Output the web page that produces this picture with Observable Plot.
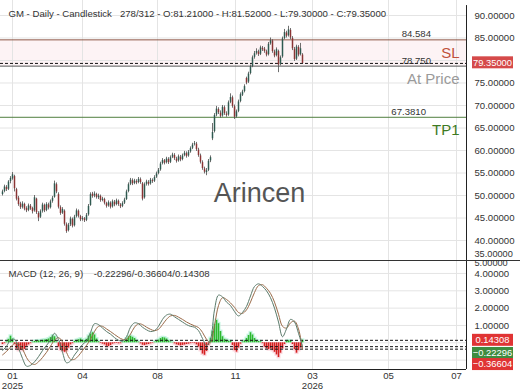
<!DOCTYPE html>
<html><head><meta charset="utf-8">
<script src="https://cdn.jsdelivr.net/npm/d3@7"></script>
<script src="https://cdn.jsdelivr.net/npm/@observablehq/plot@0.6"></script>
<style>
html,body{margin:0;padding:0;background:#fff;}
#chart{width:520px;height:390px;overflow:hidden;}
#chart svg{display:block;}
</style></head><body><div id="chart"></div>
<script>
const FONT = "'Liberation Sans', Arial, sans-serif";
const titleText = "GM - Daily - Candlestick\u00a0\u00a0\u00a0278/312 - O:81.21000 - H:81.52000 - L:79.30000 - C:79.35000";
const macdText = "MACD (12, 26, 9)\u00a0\u00a0\u00a0\u00a0-0.22296/-0.36604/0.14308";
const watermark = "Arincen";

// daily bars (one every index step)
const open = [50.2,50.9,51.8,51.4,53.1,53.7,54.2,51.3,49.4,48.1,
47.4,48.0,47.1,46.7,47.6,47.1,46.6,49.2,46.0,45.2,
46.5,47.8,46.7,47.9,47.3,48.7,49.6,52.4,50.2,47.3,
46.1,46.5,43.5,42.2,43.5,44.7,43.3,45.3,46.5,45.3,
44.7,44.8,44.5,45.7,47.8,50.3,49.9,50.2,49.5,49.8,
48.9,49.1,48.2,47.7,48.3,47.5,48.5,48.0,48.7,47.9,
47.6,48.3,49.1,50.9,52.5,53.3,52.7,53.1,52.9,53.5,
52.6,49.5,52.5,52.9,52.6,53.3,53.2,54.1,54.9,55.7,
57.1,57.7,57.3,58.0,57.4,58.5,58.9,58.1,57.7,58.5,
58.0,58.9,59.3,58.8,59.7,60.5,61.3,61.4,60.1,58.8,
57.3,55.9,55.1,55.6,57.7,62.6,64.2,67.9,69.1,68.3,
67.7,69.5,68.1,67.9,70.7,71.7,69.7,67.5,68.7,70.9,
72.3,73.1,76.0,75.2,77.1,78.7,80.7,81.6,81.9,81.4,
82.7,82.5,81.9,81.3,83.7,84.3,81.9,81.1,82.0,79.1,
80.8,84.9,86.1,85.5,86.7,84.9,82.5,80.3,82.9,81.3,
81.21];
const high = [51.2,52.3,52.2,53.3,54.2,55.1,54.5,51.6,49.8,48.5,
48.6,48.3,47.5,48.1,48.0,47.4,50.0,49.4,46.4,46.8,
48.3,48.1,48.4,48.3,49.0,49.8,53.2,52.8,50.6,47.7,
47.3,46.8,43.9,43.8,45.2,45.0,45.6,47.0,46.8,45.6,
45.3,45.1,46.0,48.0,50.6,50.7,50.8,50.5,50.3,50.1,
49.6,49.4,48.5,48.8,48.6,49.0,48.9,49.2,49.0,48.2,
48.6,49.4,51.2,52.8,53.8,53.7,53.6,53.5,54.0,53.9,
52.9,52.8,53.4,53.3,53.8,53.7,54.4,55.2,56.0,57.4,
58.2,58.0,58.5,58.4,58.8,59.4,59.3,58.5,59.0,58.9,
59.2,59.8,59.7,60.0,60.8,61.6,62.0,61.8,60.5,59.2,
57.7,56.3,56.0,58.0,58.8,66.0,68.2,69.8,69.5,68.8,
70.0,69.9,68.6,71.0,72.6,72.1,70.1,69.0,71.2,72.8,
73.4,74.6,76.3,77.4,79.0,81.0,82.0,82.6,82.3,83.2,
83.1,82.9,82.3,84.0,85.0,84.6,82.3,82.8,82.3,81.0,
85.2,86.9,86.5,87.6,87.1,85.3,82.9,83.4,83.3,83.8,
81.52];
const low = [49.9,50.6,50.9,51.1,52.6,53.4,50.8,48.8,47.6,46.9,
47.0,46.6,46.2,46.4,46.7,45.9,46.3,45.8,44.2,44.9,
46.1,46.2,46.4,46.8,47.0,48.3,49.4,50.4,47.0,45.6,
45.8,43.2,41.6,41.9,43.1,42.8,43.0,45.0,45.0,44.2,
44.3,44.0,44.2,45.4,47.6,49.4,49.5,49.2,49.1,48.5,
48.6,47.9,47.2,47.4,47.0,47.2,47.5,47.7,47.6,47.1,
47.3,48.0,48.9,50.6,52.2,52.2,52.4,52.4,52.6,52.5,
48.8,49.2,52.1,52.1,52.3,52.7,52.9,53.8,54.6,55.4,
56.8,56.8,57.0,56.9,57.1,58.2,57.8,57.2,57.4,57.5,
57.7,58.6,58.3,58.5,59.4,60.2,61.0,59.8,58.5,57.0,
55.6,54.8,54.4,55.3,57.3,62.2,63.9,67.5,68.0,67.2,
67.4,67.8,67.4,67.6,70.4,69.4,66.9,67.2,68.4,70.6,
72.0,72.8,74.6,74.9,76.8,78.4,80.3,81.2,80.9,81.1,
82.0,81.6,80.8,81.0,83.4,81.6,80.6,80.8,77.3,78.8,
80.5,84.6,85.0,85.2,84.6,82.2,79.8,80.0,80.8,81.0,
79.30];
const close = [50.8,51.9,51.3,53.0,53.8,54.6,51.5,49.2,48.0,47.3,
48.1,47.0,46.6,47.7,47.0,46.4,49.5,46.2,45.0,46.4,
47.9,46.6,48.0,47.2,48.6,49.4,52.6,50.8,47.4,46.0,
46.9,43.6,42.0,43.4,44.8,43.2,45.2,46.6,45.4,44.6,
44.9,44.4,45.6,47.6,50.2,49.8,50.3,49.6,49.9,48.9,
49.2,48.3,47.6,48.4,47.4,48.6,47.9,48.8,48.0,47.5,
48.2,49.0,50.8,52.4,53.4,52.6,53.2,52.8,53.6,52.9,
49.2,52.4,53.0,52.5,53.4,53.1,54.0,54.8,55.6,57.0,
57.8,57.2,58.1,57.3,58.4,59.0,58.2,57.6,58.6,57.9,
58.8,59.4,58.7,59.6,60.4,61.2,61.5,60.2,58.9,57.4,
56.0,55.2,55.5,57.6,58.4,64.0,67.8,69.2,68.4,67.6,
69.6,68.2,67.8,70.6,71.8,69.8,67.4,68.6,70.8,72.4,
73.0,74.2,75.0,77.0,78.6,80.6,81.5,82.0,81.3,82.8,
82.4,82.0,81.2,83.6,84.4,82.0,81.0,82.4,79.0,80.6,
84.8,86.2,85.4,86.8,85.0,82.6,80.2,83.0,81.2,82.6,
79.35];

// MACD & signal, sampled every second bar
const macd = [-0.45,-0.20,0.15,0.20,-0.30,-0.90,-1.35,-1.30,-1.10,-0.80,
-0.45,-0.15,0.15,0.55,0.20,-0.55,-1.15,-1.05,-0.70,-0.40,
-0.10,0.10,0.60,1.10,1.05,0.85,0.65,0.50,0.30,0.15,
0.10,0.35,0.90,1.15,1.10,0.90,0.75,0.65,0.70,0.95,
1.35,1.60,1.65,1.50,1.35,1.20,1.05,0.95,0.90,0.70,
0.25,-0.15,0.20,1.90,2.75,2.65,2.35,2.15,1.80,1.55,
1.75,2.10,2.70,3.25,3.40,3.25,3.00,2.60,2.00,1.20,
0.35,0.80,1.35,1.20,0.55,-0.22296];
const signal = [-0.70,-0.50,-0.25,-0.05,-0.05,-0.35,-0.85,-1.15,-1.25,-1.10,
-0.85,-0.55,-0.20,0.15,0.30,0.05,-0.55,-0.95,-0.95,-0.75,
-0.45,-0.15,0.20,0.65,0.95,0.95,0.80,0.65,0.48,0.32,
0.20,0.20,0.50,0.90,1.10,1.05,0.90,0.78,0.70,0.78,
1.05,1.35,1.55,1.58,1.48,1.35,1.20,1.08,0.98,0.88,
0.60,0.20,0.00,1.00,2.15,2.60,2.50,2.30,2.05,1.75,
1.70,1.90,2.35,2.90,3.30,3.35,3.15,2.85,2.35,1.65,
0.95,0.85,1.15,1.25,0.80,-0.36604];
// histogram, every bar
const hist = [-0.10,-0.05,0.05,0.20,0.38,0.22,-0.10,-0.35,-0.45,-0.42,
-0.45,-0.38,-0.20,-0.12,-0.05,0.04,0.08,0.10,0.12,0.10,
0.14,0.16,0.18,0.22,0.30,0.40,0.35,0.05,-0.25,-0.42,
-0.50,-0.55,-0.48,-0.30,-0.12,-0.05,0.08,0.14,0.18,0.22,
0.15,0.12,0.20,0.38,0.50,0.58,0.45,0.22,0.06,-0.04,
-0.08,-0.12,-0.20,-0.22,-0.16,-0.08,-0.05,-0.04,-0.06,-0.05,
0.04,0.10,0.22,0.35,0.38,0.32,0.25,0.12,0.04,-0.06,
-0.14,-0.16,-0.12,-0.10,-0.06,-0.03,0.04,0.08,0.16,0.25,
0.30,0.28,0.22,0.12,0.05,0.02,-0.06,-0.12,-0.15,-0.18,
-0.15,-0.13,-0.10,-0.08,-0.05,-0.03,-0.05,-0.12,-0.25,-0.45,
-0.65,-0.72,-0.50,-0.15,0.25,0.65,1.05,1.29,1.10,0.65,
0.35,0.20,0.15,0.10,0.08,-0.15,-0.45,-0.54,-0.30,-0.08,
0.05,0.12,0.25,0.42,0.58,0.45,0.25,0.12,0.08,0.06,
-0.05,-0.25,-0.35,-0.40,-0.35,-0.45,-0.55,-0.70,-0.85,-0.60,
-0.35,-0.10,0.08,0.12,0.10,-0.10,-0.40,-0.60,-0.45,-0.30,
0.14308];

// x ticks (bar index) and labels
const tickBars = [5, 40, 77.5, 116.5, 155, 193, 227];
const tickLabels = ["01\n2025", "04", "08", "11", "03\n2026", "05", "07"];
const priceTicks = [40, 45, 50, 55, 60, 65, 70, 75, 80, 85, 90];
const macdTicks = [1, 2, 3, 4];
const macdGrid = [-1, 0, 1, 2, 3, 4];

// trade levels
const slLevel = 84.584, entryLevel = 78.750, tp1Level = 67.381;
const lastPrice = 79.35;
const lastMacd = -0.22296, lastSignal = -0.36604, lastHist = 0.14308;

const bars = close.map((c, i) => ({i, o: open[i], h: high[i], l: low[i], c}));
const lineRows = macd.map((m, k) => ({i: 2 * k, m, s: signal[k]}));
const histRows = hist.map((v, i) => ({i, v}));
const labelOf = new Map(tickBars.map((b, k) => [b, tickLabels[k]]));
const f5 = d3.format(".5f");

const xDomain = [-1, 232];

function tag(value, text, fill, shift) {
  return (index, scales, values, dims) => {
    const y = scales.y(value) + shift;
    const x = dims.width - dims.marginRight + 6;
    const g = d3.create("svg:g");
    g.append("rect").attr("x", x).attr("y", y - 6).attr("width", 41).attr("height", 12).attr("fill", fill);
    g.append("text").attr("x", x + 20.5).attr("y", y).attr("dy", "0.35em")
      .attr("text-anchor", "middle").attr("fill", "#fff").attr("font-size", 9.4).text(text);
    return g.node();
  };
}

const baseStyle = {fontFamily: FONT, fontSize: "9.6px", color: "#333", background: "#fff", overflow: "visible"};

const p1 = Plot.plot({
  width: 520, height: 260,
  marginLeft: 0, marginRight: 54, marginTop: 0, marginBottom: 0,
  style: baseStyle,
  x: {domain: xDomain, axis: null, label: null},
  y: {domain: [35.56, 93.33], axis: null, label: null},
  marks: [
    Plot.rect([{a: entryLevel, b: slLevel}], {x1: xDomain[0], x2: xDomain[1], y1: "a", y2: "b", fill: "#fdf3f5"}),
    Plot.gridY(priceTicks, {stroke: "#e4e4e4", strokeOpacity: 1}),
    Plot.gridX(tickBars, {stroke: "#e4e4e4", strokeOpacity: 1}),
    Plot.ruleY([slLevel], {stroke: "#8d5a48", strokeWidth: 1}),
    Plot.ruleY([entryLevel], {stroke: "#555", strokeWidth: 1}),
    Plot.ruleY([tp1Level], {stroke: "#4f7f3f", strokeWidth: 1}),
    Plot.ruleY([lastPrice], {stroke: "#111", strokeWidth: 1, strokeDasharray: "3,2"}),
    Plot.ruleX(bars, {x: "i", y1: "l", y2: "h", stroke: "#4a4a4a", strokeWidth: 0.8}),
    Plot.ruleX(bars, {x: "i", y1: "o", y2: "c", stroke: d => d.c >= d.o ? "#2f5a50" : "#8a3434", strokeWidth: 1.5}),
    Plot.text([titleText], {frameAnchor: "top-left", text: d => d, dx: 8, dy: 13, lineAnchor: "middle", textAnchor: "start", fill: "#333", fontSize: 9.6}),
    Plot.text([watermark], {frameAnchor: "middle", text: d => d, dx: 26, dy: 63, fill: "#555", fontSize: 27}),
    Plot.text([slLevel], {y: d => d, text: ["84.584"], frameAnchor: "right", textAnchor: "end", dx: -35.5, dy: -5.7, fill: "#333", fontSize: 9.6}),
    Plot.text([entryLevel], {y: d => d, text: ["78.750"], frameAnchor: "right", textAnchor: "end", dx: -35.5, dy: -5, fill: "#333", fontSize: 9.6}),
    Plot.text([tp1Level], {y: d => d, text: ["67.3810"], frameAnchor: "right", textAnchor: "end", dx: -40.5, dy: -5.8, fill: "#333", fontSize: 9.6}),
    Plot.text([slLevel], {y: d => d, text: ["SL"], frameAnchor: "right", textAnchor: "end", dx: -7, dy: 13, fill: "#c0503c", fontSize: 15}),
    Plot.text([entryLevel], {y: d => d, text: ["At Price"], frameAnchor: "right", textAnchor: "end", dx: -7, dy: 13.4, fill: "#9a9a9a", fontSize: 15}),
    Plot.text([tp1Level], {y: d => d, text: ["TP1"], frameAnchor: "right", textAnchor: "end", dx: -7, dy: 13.2, fill: "#3d7a22", fontSize: 15}),
    Plot.axisY(priceTicks.filter(v => v !== 80), {anchor: "right", tickSize: 0, tickPadding: 8, tickFormat: f5, fill: "#333", fontSize: 9.6, label: null}),
    Plot.text([35], {y: d => d, text: d => f5(d), frameAnchor: "right", textAnchor: "start", dx: 8, dy: -9, fill: "#333", fontSize: 9.2}),
    Plot.ruleX([xDomain[1]], {stroke: "#222", strokeWidth: 1, y1: 92.2, y2: 35.56}),
    tag(lastPrice, f5(lastPrice), "#d54a4a", -0.6)
  ]
});

const p2 = Plot.plot({
  width: 520, height: 129,
  marginLeft: 0, marginRight: 54, marginTop: 0, marginBottom: 21,
  style: {...baseStyle, borderTop: "1px solid #333"},
  x: {domain: xDomain, axis: null, label: null},
  y: {domain: [-1.54, 4.69], axis: null, label: null},
  marks: [
    Plot.gridY(macdGrid, {stroke: "#e4e4e4", strokeOpacity: 1}),
    Plot.gridX(tickBars, {stroke: "#e4e4e4", strokeOpacity: 1}),
    Plot.ruleX(histRows, {x: "i", y1: 0, y2: d => d.v + (d.v >= 0 ? 0.08 : -0.08), stroke: d => d.v >= 0 ? "#c4f4e0" : "#fbd8df", strokeWidth: 4}),
    Plot.ruleX(histRows, {x: "i", y1: 0, y2: "v", stroke: d => d.v >= 0 ? "#2db82d" : "#d42020", strokeWidth: 1.6}),
    Plot.ruleY([lastHist, lastMacd, lastSignal], {stroke: "#111", strokeWidth: 1, strokeDasharray: "3,2"}),
    Plot.line(lineRows, {x: "i", y: "s", stroke: "#9a6a48", strokeWidth: 1, curve: "catmull-rom"}),
    Plot.line(lineRows, {x: "i", y: "m", stroke: "#5a7a6a", strokeWidth: 1, curve: "catmull-rom"}),
    Plot.text([macdText], {frameAnchor: "top-left", text: d => d, dx: 8, dy: 12, lineAnchor: "middle", textAnchor: "start", fill: "#333", fontSize: 9.6}),
    Plot.axisY(macdTicks, {anchor: "right", tickSize: 0, tickPadding: 8, tickFormat: f5, fill: "#333", fontSize: 9.6, label: null}),
    Plot.text([5], {y: d => d, text: d => f5(d), frameAnchor: "right", textAnchor: "start", dx: 8, dy: 7.2, fill: "#333", fontSize: 9.2}),
    Plot.axisX(tickBars, {anchor: "bottom", tickSize: 0, tickPadding: 2, tickFormat: d => labelOf.get(d), fill: "#333", fontSize: 9.6, lineHeight: 1.05, label: null}),
    Plot.ruleY([-1.54], {stroke: "#222", strokeWidth: 1}),
    Plot.ruleX([xDomain[1]], {stroke: "#222", strokeWidth: 1}),
    tag(lastHist, f5(lastHist), "#e03434", 0),
    tag(lastMacd, f5(lastMacd), "#3f8c3f", 6.8),
    tag(lastSignal, f5(lastSignal), "#e03434", 15.4)
  ]
});

const root = document.getElementById("chart");
root.append(p1, p2);
</script>
</body></html>
